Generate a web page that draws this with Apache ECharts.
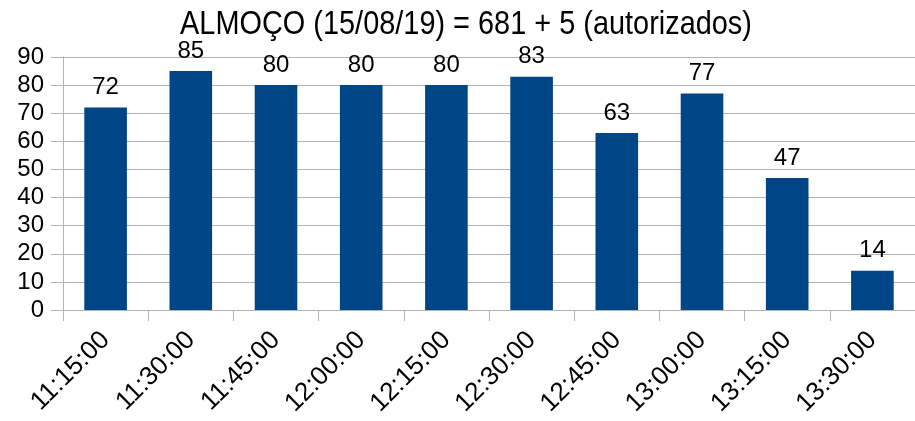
<!DOCTYPE html>
<html>
<head>
<meta charset="utf-8">
<script src="https://cdn.jsdelivr.net/npm/echarts@6/dist/echarts.min.js"></script>
<style>
html,body{margin:0;padding:0;background:#fff;}
#chart{width:915px;height:421px;}
</style>
</head>
<body>
<div id="chart"></div>
<script>
const titleText = "ALMOÇO (15/08/19) = 681 + 5 (autorizados)";
const categories = ["11:15:00","11:30:00","11:45:00","12:00:00","12:15:00","12:30:00","12:45:00","13:00:00","13:15:00","13:30:00"];
const values = [72, 85, 80, 80, 80, 83, 63, 77, 47, 14];
const yMin = 0, yMax = 90, yStep = 10;

const chart = echarts.init(document.getElementById('chart'));
chart.setOption({
  animation: false,
  backgroundColor: '#ffffff',
  graphic: [{
    type: 'text',
    x: 466, y: 25,
    scaleX: 0.85,
    style: {
      text: titleText,
      font: '34px "Liberation Sans"',
      fill: '#000',
      textAlign: 'center',
      textVerticalAlign: 'middle'
    }
  }],
  grid: {left: 63, top: 57, width: 857, height: 253, containLabel: false},
  xAxis: {
    type: 'category',
    data: categories,
    axisLine: {lineStyle: {color: '#b3b3b3', width: 1}},
    axisTick: {show: true, length: 11, lineStyle: {color: '#b3b3b3'}},
    axisLabel: {rotate: 45, margin: 26, fontFamily: 'Liberation Sans', fontSize: 26, color: '#000'},
    splitLine: {show: false}
  },
  yAxis: {
    type: 'value', min: yMin, max: yMax, interval: yStep,
    axisLine: {show: true, lineStyle: {color: '#b3b3b3'}},
    axisTick: {show: true, length: 12, lineStyle: {color: '#b3b3b3'}},
    axisLabel: {margin: 19, fontFamily: 'Liberation Sans', fontSize: 24, color: '#000'},
    splitLine: {show: true, lineStyle: {color: '#b3b3b3', width: 1}}
  },
  series: [{
    type: 'bar',
    data: values,
    barWidth: '50%',
    itemStyle: {color: '#004586'},
    label: {show: true, position: 'top', distance: 8, fontFamily: 'Liberation Sans', fontSize: 24, color: '#000'}
  }]
});
</script>
</body>
</html>
